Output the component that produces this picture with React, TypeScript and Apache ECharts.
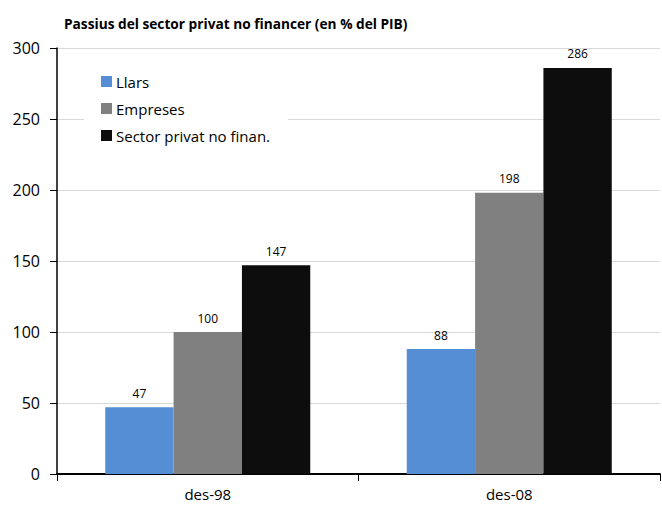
import React, { useEffect, useRef } from "react";
import * as echarts from "echarts";

const categories = ["des-98", "des-08"];
const llars = [47, 88];
const empreses = [100, 198];
const sectorPrivat = [147, 286];
const seriesNames = ["Llars", "Empreses", "Sector privat no finan."];
const colors = ["#558ed5", "#808080", "#0d0d0d"];
const titleText = "Passius del sector privat no financer (en % del PIB)";

export default function App() {
  const ref = useRef<HTMLDivElement>(null);
  useEffect(() => {
    if (!ref.current) return;
    const chart = echarts.init(ref.current, null, { renderer: "svg" });
    const font = "'Open Sans', sans-serif";
    const datas = [llars, empreses, sectorPrivat];
    chart.setOption({
      animation: false,
      backgroundColor: "#ffffff",
      title: {
        text: titleText,
        left: 59,
        top: 11,
        textStyle: { fontFamily: font, fontSize: 13.7, fontWeight: "bold", color: "#000" },
      },
      legend: {
        orient: "vertical",
        left: 84,
        top: 64,
        backgroundColor: "#ffffff",
        padding: [10, 18, 10, 17],
        itemWidth: 11,
        itemHeight: 11,
        itemGap: 12,
        icon: "rect",
        data: seriesNames,
        textStyle: { fontFamily: font, fontSize: 15, color: "#000", padding: [0, 0, 0, -1] },
      },
      grid: { left: 57, right: 2, top: 48, bottom: 31, containLabel: false },
      xAxis: {
        type: "category",
        data: categories,
        axisLine: { show: true, lineStyle: { color: "#000", width: 2 } },
        axisTick: { show: true, length: 7, lineStyle: { color: "#000", width: 1 } },
        axisLabel: { fontFamily: font, fontSize: 15, color: "#000", margin: 12 },
        splitLine: { show: false },
      },
      yAxis: {
        type: "value",
        min: 0,
        max: 300,
        interval: 50,
        axisLine: { show: true, lineStyle: { color: "#000", width: 1.5 } },
        axisTick: { show: true, length: 7, lineStyle: { color: "#000" } },
        axisLabel: { fontFamily: font, fontSize: 16, color: "#000", margin: 17 },
        splitLine: { show: true, lineStyle: { color: "#d9d9d9", width: 1 } },
      },
      series: seriesNames.map((name, i) => ({
        name,
        type: "bar",
        data: datas[i],
        barGap: "0%",
        barCategoryGap: "32%",
        itemStyle: { color: colors[i] },
        label: {
          show: true,
          position: "top",
          distance: 8,
          fontFamily: font,
          fontSize: 12,
          color: "#000",
        },
      })),
    });
    return () => chart.dispose();
  }, []);
  return (
    <div
      ref={ref}
      style={{ position: "fixed", left: 0, top: 0, width: 662, height: 505 }}
    />
  );
}
